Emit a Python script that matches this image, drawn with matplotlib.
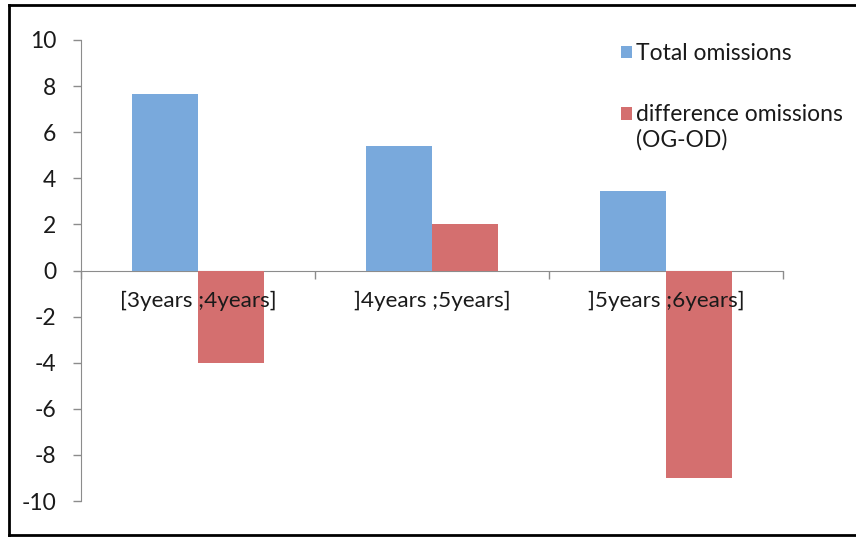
import matplotlib
matplotlib.use("Agg")
import matplotlib.pyplot as plt
from matplotlib.lines import Line2D
import numpy as np

categories = ["[3years ;4years]", "]4years ;5years]", "]5years ;6years]"]
total_omissions = [7.67, 5.38, 3.47]
difference_omissions = [-4.0, 2.0, -9.0]
series_labels = ["Total omissions", "difference omissions\n(OG-OD)"]
yticks = [-10, -8, -6, -4, -2, 0, 2, 4, 6, 8, 10]

plt.rcParams['font.family'] = ['Lato', 'DejaVu Sans']

W, H = 856, 538
fig = plt.figure(figsize=(W / 100, H / 100), dpi=100)
ax = fig.add_axes([81 / W, 1 - 501 / H, (783 - 81) / W, (501 - 40) / H])

blue = "#79A9DC"
red = "#D46F6F"
grey = "#8C8C8C"
txt = "#1A1A1A"

x = np.arange(len(categories))
bw = 0.282
b1 = ax.bar(x - bw / 2, total_omissions, bw, color=blue, label=series_labels[0], zorder=1)
b2 = ax.bar(x + bw / 2, difference_omissions, bw, color=red, label=series_labels[1], zorder=1)

ax.set_xlim(-0.5, len(categories) - 0.5)
ax.set_ylim(-10, 10)
ax.set_yticks(yticks)
ax.set_yticklabels([str(v) for v in yticks], fontsize=16.5, color=txt)
ax.tick_params(axis='y', direction='out', length=6, width=1, color=grey, pad=12)

for s in ['top', 'right']:
    ax.spines[s].set_visible(False)
ax.spines['left'].set_color(grey)
ax.spines['bottom'].set_color(grey)
ax.spines['bottom'].set_position(('data', 0))
ax.spines['bottom'].set_zorder(0.5)

ax.set_xticks(np.arange(len(categories) + 1) - 0.5)
ax.set_xticklabels([])
ax.set_xticks(x, minor=True)
ax.set_xticklabels(categories, minor=True, fontsize=16.2, color=txt)
ax.tick_params(axis='x', which='major', direction='out', length=6, width=1, color=grey)
ax.tick_params(axis='x', which='minor', length=0, pad=15)

fs = 16.5
leg = ax.legend(handles=[b1, b2], loc='upper left', bbox_to_anchor=(621 / W, 1 - 43 / H),
                bbox_transform=fig.transFigure, frameon=False, fontsize=fs,
                handlelength=0.46, handleheight=0.46, handletextpad=0.2,
                labelspacing=1.75, borderpad=0, borderaxespad=0)
for t in leg.get_texts():
    t.set_color(txt)
    t.set_linespacing(1.2)
# align the second marker with the first line of its two-line label
h2 = leg.legend_handles[1]
h2.set_y(h2.get_y() + fs * 1.2 * 0.5)

# outer frame
fig.add_artist(Line2D([9 / W, 9 / W], [1 - 535 / H, 1 - 5 / H], color='black', lw=2, transform=fig.transFigure))
fig.add_artist(Line2D([9 / W, 1.0], [1 - 5 / H, 1 - 5 / H], color='black', lw=2, transform=fig.transFigure))
fig.add_artist(Line2D([9 / W, 1.0], [1 - 535 / H, 1 - 535 / H], color='black', lw=2, transform=fig.transFigure))

fig.savefig("out.png", dpi=100)
